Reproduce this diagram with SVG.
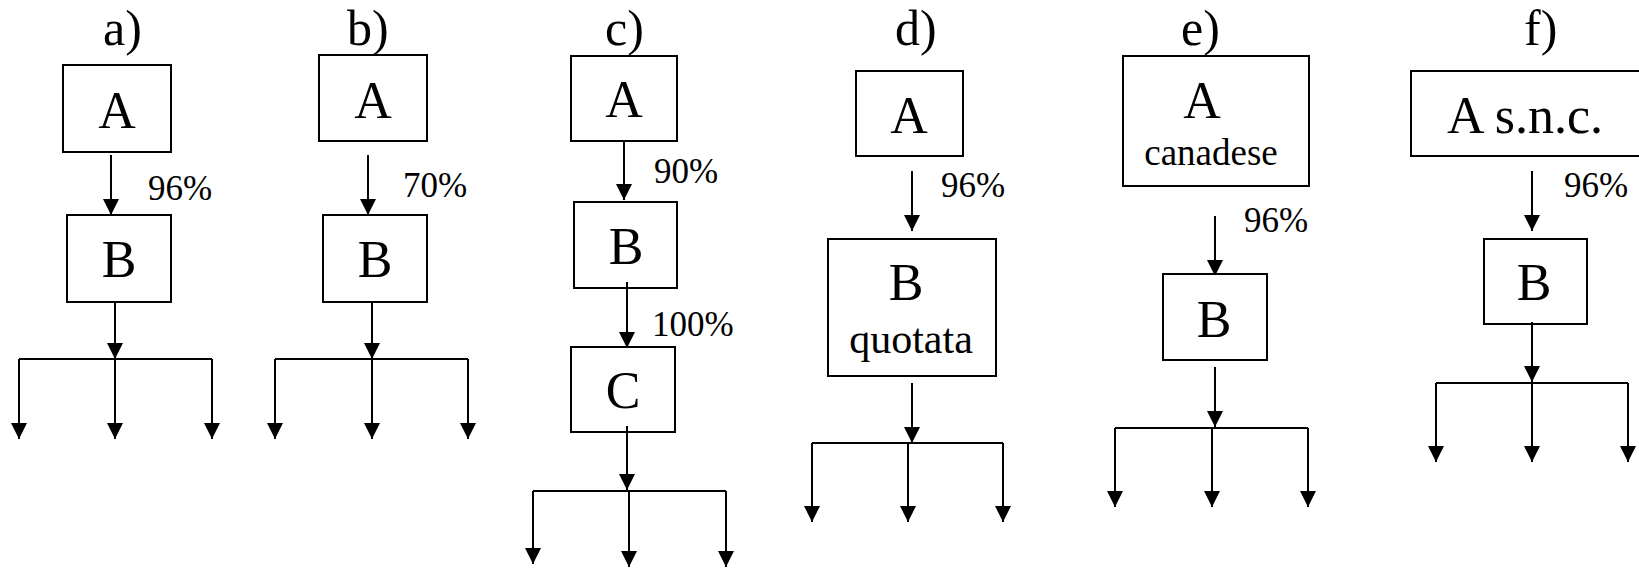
<svg xmlns="http://www.w3.org/2000/svg" width="1639" height="570" viewBox="0 0 1639 570">
<style>
text{font-family:'Liberation Serif','Times New Roman',serif;fill:#000}
.lbl{font-size:50px}
.big{font-size:52px;text-anchor:middle}
.pct{font-size:35px}
.box{fill:#fff;stroke:#000;stroke-width:2}
.ln{stroke:#000;stroke-width:2;fill:none}
.ar{stroke:#000;stroke-width:2;fill:none;marker-end:url(#ah)}
</style>
<defs>
<marker id="ah" markerUnits="userSpaceOnUse" markerWidth="16" markerHeight="16" viewBox="0 0 16 16" refX="16" refY="8" orient="auto"><path d="M0,0 L16,8 L0,16 Z" fill="#000"/></marker>
</defs>
<rect width="1639" height="570" fill="#fff"/>

<g id="labels">
<text class="lbl" x="103" y="45">a)</text>
<text class="lbl" x="347" y="45">b)</text>
<text class="lbl" x="605" y="45">c)</text>
<text class="lbl" x="895" y="45">d)</text>
<text class="lbl" x="1181" y="45">e)</text>
<text class="lbl" x="1524" y="45">f)</text>
</g>

<g id="connectors">
<line class="ar" x1="111" y1="155" x2="111" y2="215"/>
<line class="ar" x1="115" y1="302" x2="115" y2="359"/>
<line class="ln" x1="19" y1="359" x2="212" y2="359"/>
<line class="ar" x1="19" y1="359" x2="19" y2="439"/>
<line class="ar" x1="115" y1="359" x2="115" y2="439"/>
<line class="ar" x1="212" y1="359" x2="212" y2="439"/>
<line class="ar" x1="368" y1="155" x2="368" y2="215"/>
<line class="ar" x1="372" y1="302" x2="372" y2="359"/>
<line class="ln" x1="275" y1="359" x2="468" y2="359"/>
<line class="ar" x1="275" y1="359" x2="275" y2="439"/>
<line class="ar" x1="372" y1="359" x2="372" y2="439"/>
<line class="ar" x1="468" y1="359" x2="468" y2="439"/>
<line class="ar" x1="624" y1="141" x2="624" y2="200"/>
<line class="ar" x1="627" y1="282" x2="627" y2="348"/>
<line class="ar" x1="627" y1="426" x2="627" y2="490"/>
<line class="ln" x1="533" y1="491" x2="726" y2="491"/>
<line class="ar" x1="533" y1="491" x2="533" y2="564"/>
<line class="ar" x1="629" y1="491" x2="629" y2="567"/>
<line class="ar" x1="726" y1="491" x2="726" y2="567"/>
<line class="ar" x1="912" y1="171" x2="912" y2="231"/>
<line class="ar" x1="912" y1="383" x2="912" y2="443"/>
<line class="ln" x1="812" y1="443" x2="1003" y2="443"/>
<line class="ar" x1="812" y1="443" x2="812" y2="522"/>
<line class="ar" x1="908" y1="443" x2="908" y2="522"/>
<line class="ar" x1="1003" y1="443" x2="1003" y2="522"/>
<line class="ar" x1="1215" y1="216" x2="1215" y2="276"/>
<line class="ar" x1="1215" y1="367" x2="1215" y2="427"/>
<line class="ln" x1="1115" y1="428" x2="1308" y2="428"/>
<line class="ar" x1="1115" y1="428" x2="1115" y2="507"/>
<line class="ar" x1="1212" y1="428" x2="1212" y2="507"/>
<line class="ar" x1="1308" y1="428" x2="1308" y2="507"/>
<line class="ar" x1="1532" y1="171" x2="1532" y2="231"/>
<line class="ar" x1="1532" y1="322" x2="1532" y2="382"/>
<line class="ln" x1="1436" y1="383" x2="1628" y2="383"/>
<line class="ar" x1="1436" y1="383" x2="1436" y2="462"/>
<line class="ar" x1="1532" y1="383" x2="1532" y2="462"/>
<line class="ar" x1="1628" y1="383" x2="1628" y2="462"/>
</g>

<g id="pcts">
<text class="pct" x="148" y="200">96%</text>
<text class="pct" x="403" y="197">70%</text>
<text class="pct" x="654" y="183">90%</text>
<text class="pct" x="652" y="336">100%</text>
<text class="pct" x="941" y="197">96%</text>
<text class="pct" x="1244" y="232">96%</text>
<text class="pct" x="1564" y="197">96%</text>
</g>

<g id="a-A"><rect class="box" x="63" y="65" width="108" height="87"/><text class="big" x="117" y="128">A</text></g>
<g id="a-B"><rect class="box" x="67" y="215" width="104" height="87"/><text class="big" x="119" y="277">B</text></g>

<g id="b-A"><rect class="box" x="319" y="55" width="108" height="86"/><text class="big" x="373" y="118">A</text></g>
<g id="b-B"><rect class="box" x="323" y="215" width="104" height="87"/><text class="big" x="375" y="277">B</text></g>

<g id="c-A"><rect class="box" x="571" y="56" width="106" height="85"/><text class="big" x="624" y="117">A</text></g>
<g id="c-B"><rect class="box" x="574" y="202" width="103" height="86"/><text class="big" x="626" y="264">B</text></g>
<g id="c-C"><rect class="box" x="571" y="347" width="104" height="85"/><text class="big" x="623" y="408">C</text></g>
<line class="ln" x1="627" y1="282" x2="627" y2="288"/>
<line class="ln" x1="627" y1="426" x2="627" y2="432"/>

<g id="d-A"><rect class="box" x="856" y="71" width="107" height="85"/><text class="big" x="909" y="133">A</text></g>
<g id="d-B"><rect class="box" x="828" y="239" width="168" height="137"/><text class="big" x="906" y="300">B</text><text x="911" y="353" style="font-size:42px;text-anchor:middle">quotata</text></g>

<g id="e-A"><rect class="box" x="1123" y="56" width="186" height="130"/><text class="big" x="1202" y="118">A</text><text x="1211" y="165" style="font-size:37px;text-anchor:middle">canadese</text></g>
<g id="e-B"><rect class="box" x="1163" y="274" width="104" height="86"/><text class="big" x="1214" y="337">B</text></g>

<g id="f-A"><rect class="box" x="1411" y="71" width="240" height="85"/><text x="1447" y="133" style="font-size:52px">A s.n.c.</text></g>
<g id="f-B"><rect class="box" x="1484" y="239" width="103" height="85"/><text class="big" x="1534" y="300">B</text></g>
<line class="ln" x1="1532" y1="322" x2="1532" y2="324"/>
</svg>
